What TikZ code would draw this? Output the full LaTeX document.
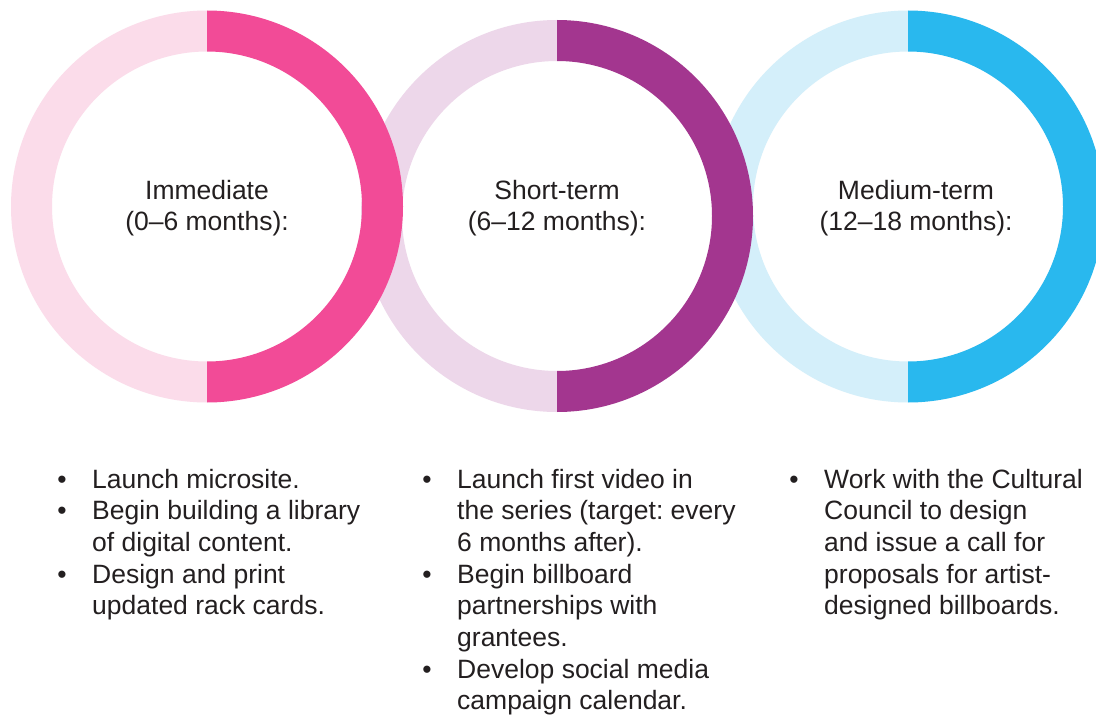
\documentclass[tikz,border=0pt]{standalone}
\usepackage{fontspec}
\setmainfont{Liberation Sans}
\usetikzlibrary{calc}
\frenchspacing

\definecolor{pinkdark}{HTML}{F24B97}
\definecolor{pinklight}{HTML}{FBDCEA}
\definecolor{plumdark}{HTML}{A3368F}
\definecolor{plumlight}{HTML}{EDD7EA}
\definecolor{skydark}{HTML}{29B8EE}
\definecolor{skylight}{HTML}{D4EFFA}
\definecolor{ink}{HTML}{231F20}

% half of a ring band: centre, start angle, colour
\newcommand\halfband[3]{%
  \fill[#3] ($(#1)+(#2:196)$) arc[start angle=#2, delta angle=180, radius=196]
    -- ($(#1)+(#2+180:155)$) arc[start angle=#2+180, delta angle=-180, radius=155] -- cycle;}

% multi-line nodes: the base anchor sits on the last line's baseline
\tikzset{
  phase/.style={align=center, anchor=base, inner sep=0pt, text=ink,
    font=\fontsize{26.5}{31}\selectfont},
  item/.style={align=left, anchor=base west, inner sep=0pt, text=ink,
    font=\fontsize{26.5}{31.7}\selectfont},
}
\newcommand\bul{\llap{\textbullet\hspace{25.5pt}}}

\begin{document}
\begin{tikzpicture}[x=1pt,y=-1pt]
\clip (0,0) rectangle (1096,717);
\fill[white] (0,0) rectangle (1096,717);

\coordinate (c1) at (207,206.5);
\coordinate (c2) at (557,216);
\coordinate (c3) at (908,206.5);

% pale left halves first, strong right halves on top
\halfband{c1}{90}{pinklight}
\halfband{c2}{90}{plumlight}
\halfband{c3}{90}{skylight}
\halfband{c1}{-90}{pinkdark}
\halfband{c2}{-90}{plumdark}
\halfband{c3}{-90}{skydark}

% phase titles
\node[phase] (t1) at (207,230) {Immediate\\(0–6 months):};
\node[phase] (t2) at (557,230) {Short-term\\(6–12 months):};
\node[phase] (t3) at (916,230) {Medium-term\\(12–18 months):};

% actions, immediate
\node[item] (a1) at (92,488) {\bul Launch microsite.};
\node[item] (a2) at (92,551.4) {\bul Begin building a library\\of digital content.};
\node[item] (a3) at (92,614.8) {\bul Design and print\\updated rack cards.};

% actions, short-term
\node[item] (b1) at (457,551.4) {\bul Launch first video in\\the series (target: every\\6 months after).};
\node[item] (b2) at (457,646.5) {\bul Begin billboard\\partnerships with\\grantees.};
\node[item] (b3) at (457,709.9) {\bul Develop social media\\campaign calendar.};

% actions, medium-term
\node[item] (m1) at (824,614.8) {\bul Work with the Cultural\\Council to design\\and issue a call for\\proposals for artist-\\designed billboards.};
\end{tikzpicture}
\end{document}
